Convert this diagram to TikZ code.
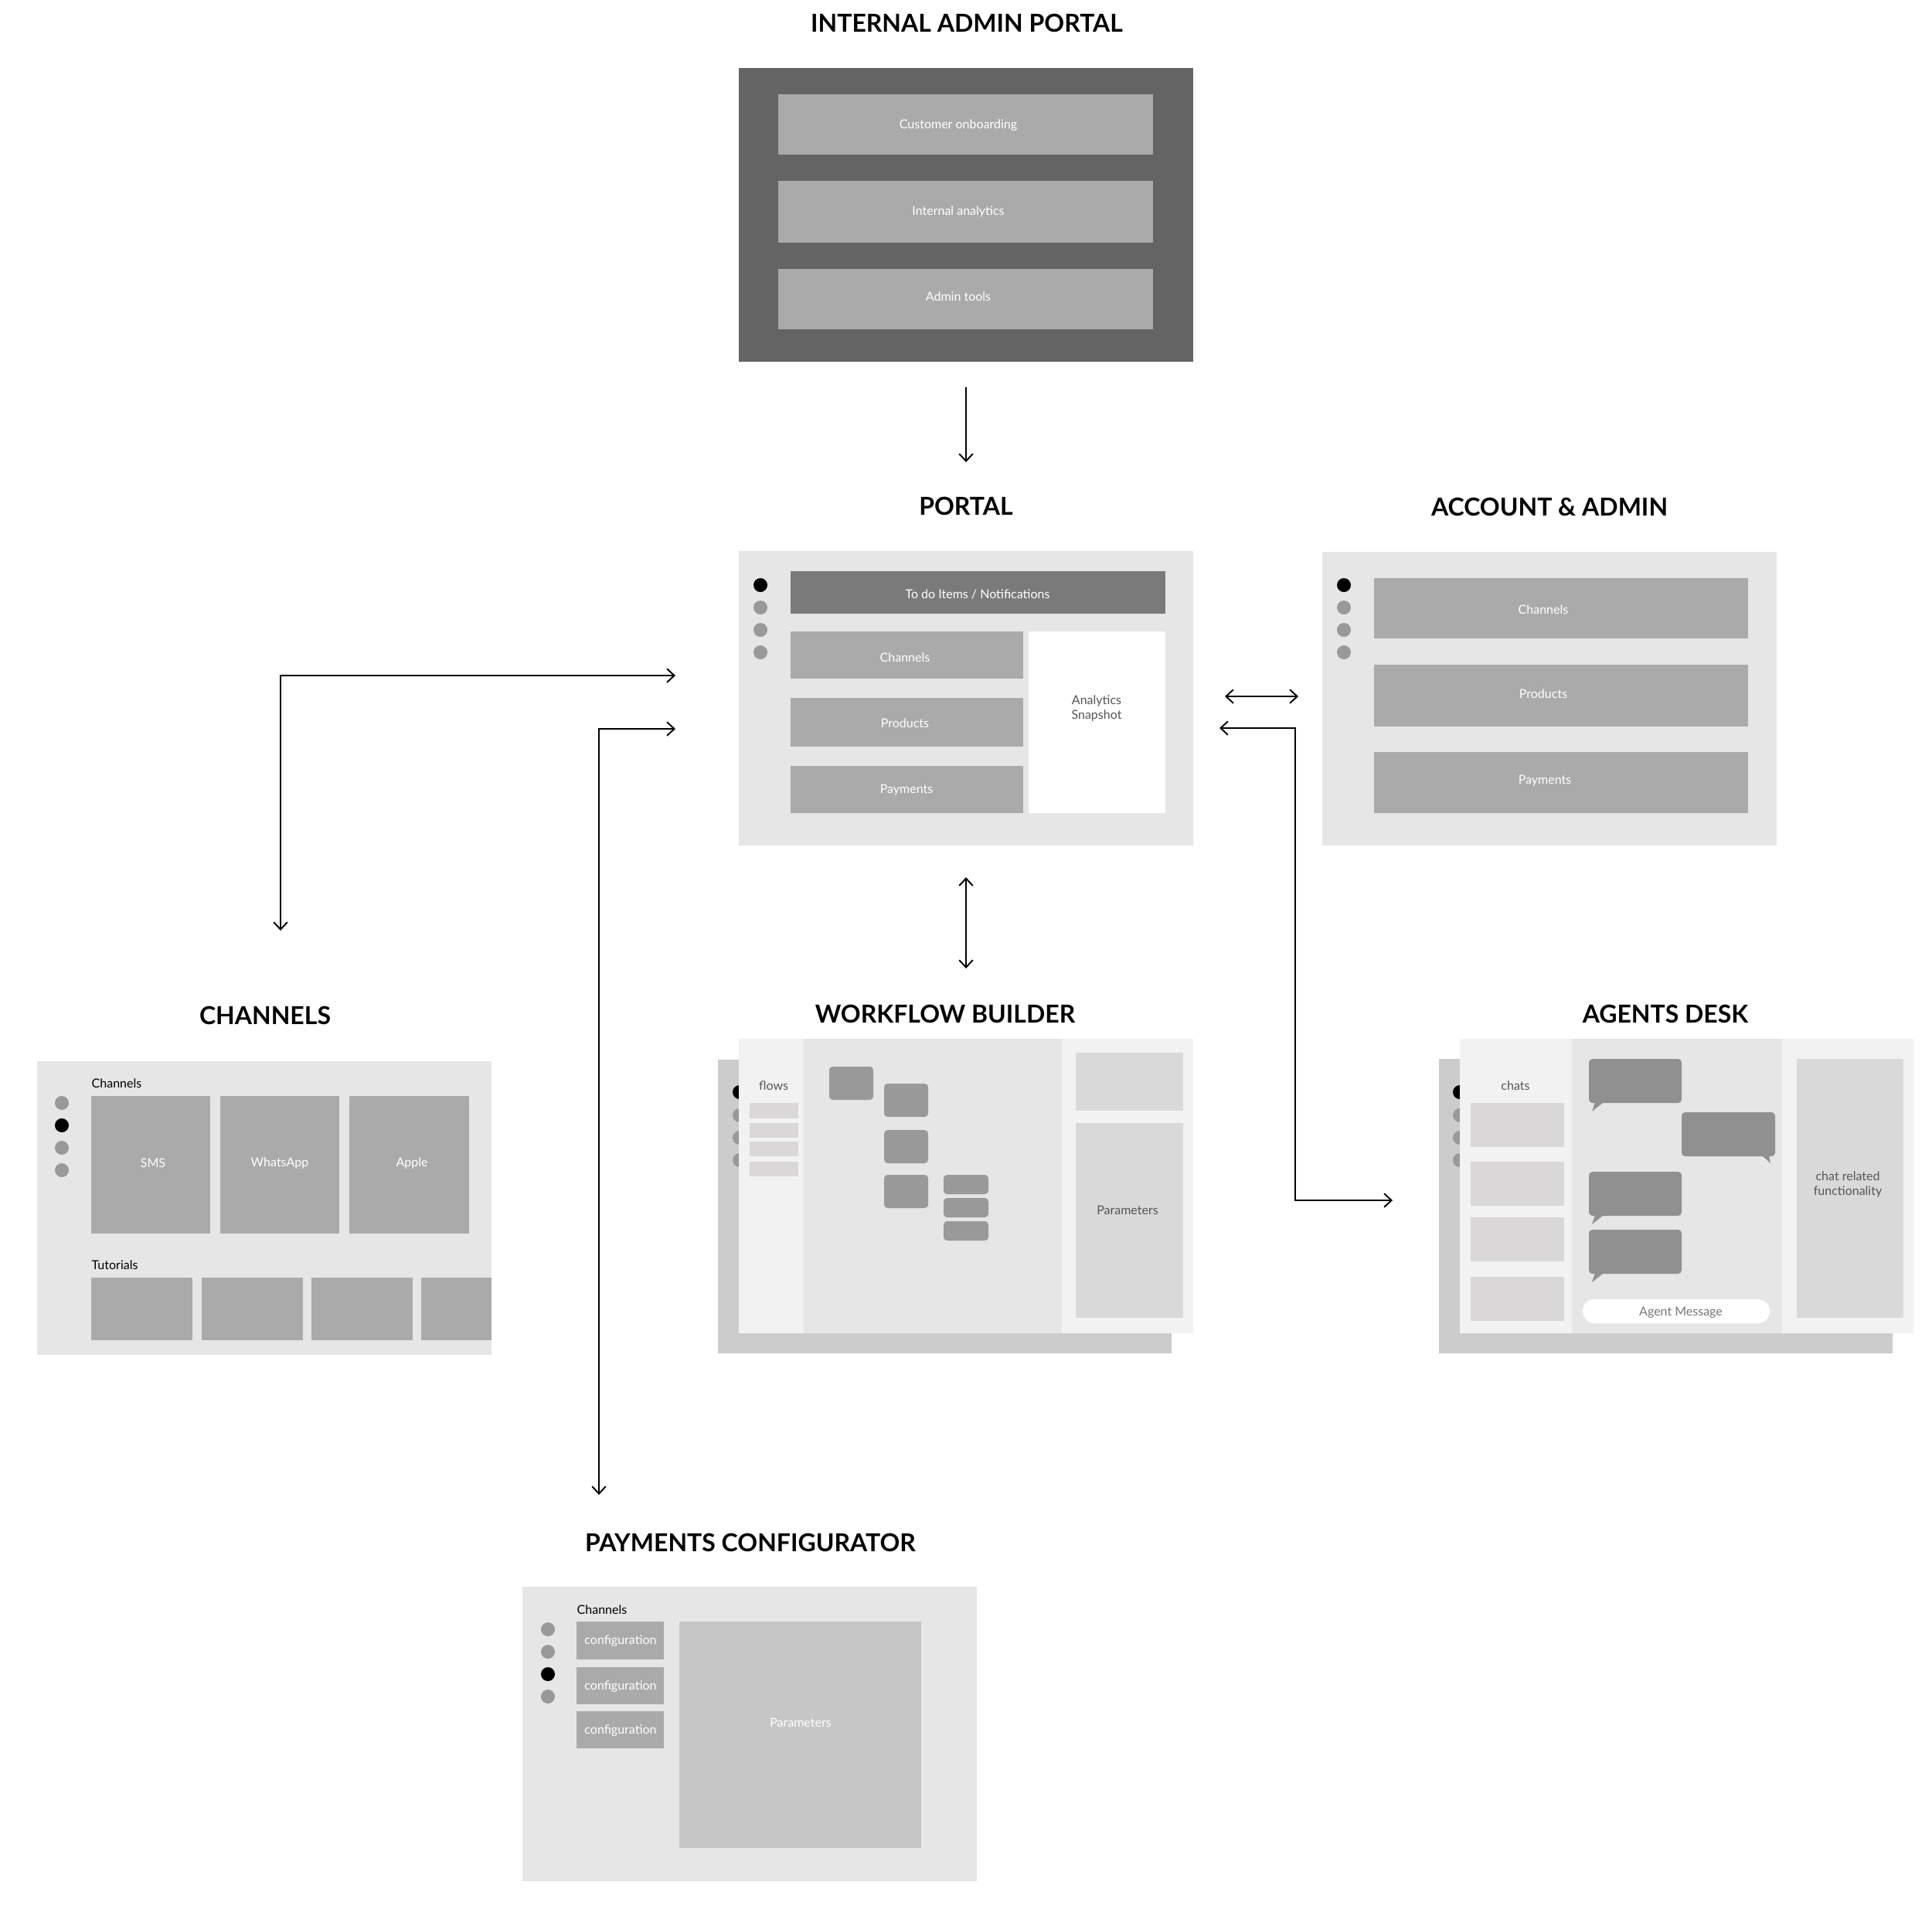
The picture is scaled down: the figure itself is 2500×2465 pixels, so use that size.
\documentclass[tikz,border=0pt]{standalone}
\usepackage{fontspec}
\setmainfont{Lato}
\usetikzlibrary{arrows.meta,fit}
\definecolor{admindark}{HTML}{646464}
\definecolor{boxgray}{HTML}{AAAAAA}
\definecolor{panelbg}{HTML}{E6E6E6}
\definecolor{todogray}{HTML}{7A7A7A}
\definecolor{dotgray}{HTML}{999999}
\definecolor{shadowgray}{HTML}{CCCCCC}
\definecolor{panelight}{HTML}{F2F2F2}
\definecolor{itemgray}{HTML}{D9D7D7}
\definecolor{rightgray}{HTML}{D9D9D9}
\definecolor{nodegray}{HTML}{999999}
\definecolor{bubblegray}{HTML}{909090}
\definecolor{paramgray}{HTML}{C6C6C6}
\definecolor{textdark}{HTML}{555555}
\definecolor{textmid}{HTML}{777777}
\tikzset{
  area/.style={inner sep=0pt, outer sep=0pt, fill=#1},
  rarea/.style={inner sep=0pt, outer sep=0pt, fill=#1, rounded corners=1.3pt},
  title/.style={font=\fontsize{9.1}{11}\selectfont\bfseries, anchor=base, inner sep=0pt},
  lbl/.style={font=\fontsize{4.55}{5.6}\selectfont, text=white, inner sep=0pt, align=center, yshift=-0.015cm},
  dlbl/.style={lbl, text=textdark},
  blbl/.style={lbl, text=black, anchor=west},
  dotc/.style={circle, inner sep=0pt, minimum size=0.18cm, fill=#1},
  conn/.style={line width=0.55pt, draw=black, line join=miter, -{Straight Barb[length=2.7pt,width=5pt]}},
  dconn/.style={line width=0.55pt, draw=black, line join=miter, {Straight Barb[length=2.7pt,width=5pt]}-{Straight Barb[length=2.7pt,width=5pt]}},
}
\begin{document}
\begin{tikzpicture}[x=0.01cm,y=-0.01cm]
\fill[white] (0,0) rectangle (2500,2465);
\useasboundingbox (0,0) rectangle (2500,2465);

% ---------- titles
\node[title] (tAdmin) at (1251,41) {INTERNAL ADMIN PORTAL};
\node[title] (tPortal) at (1250,666) {PORTAL};
\node[title] (tAccount) at (2005,667) {ACCOUNT \& ADMIN};
\node[title] (tWork) at (1223,1323) {WORKFLOW BUILDER};
\node[title] (tAgents) at (2155,1323) {AGENTS DESK};
\node[title] (tChan) at (343,1325) {CHANNELS};
\node[title] (tPay) at (971,2007) {PAYMENTS CONFIGURATOR};

% ---------- internal admin portal
\node[area=admindark, fit={(956,88)(1544,468)}] (admin) {};
\node[area=boxgray, fit={(1007,122)(1492,200)}] (aOnb) {};
\node[area=boxgray, fit={(1007,234)(1492,314)}] (aAna) {};
\node[area=boxgray, fit={(1007,348)(1492,426)}] (aTools) {};
\node[lbl] (aOnbT) at (1240,161) {Customer onboarding};
\node[lbl] (aAnaT) at (1240,272) {Internal analytics};
\node[lbl] (aToolsT) at (1240,382) {Admin tools};

% ---------- portal
\node[area=panelbg, fit={(956,713)(1544,1094)}] (portal) {};
\node[dotc=black] (pd1) at (984,757) {};
\node[dotc=dotgray] (pd2) at (984,786) {};
\node[dotc=dotgray] (pd3) at (984,815) {};
\node[dotc=dotgray] (pd4) at (984,844) {};
\node[area=todogray, fit={(1023,739)(1508,794)}] (pTodo) {};
\node[lbl] (pTodoT) at (1265,767) {To do Items / Notifications};
\node[area=boxgray, fit={(1023,817)(1324,878)}] (pChan) {};
\node[lbl] (pChanT) at (1171,849) {Channels};
\node[area=boxgray, fit={(1023,903)(1324,966)}] (pProd) {};
\node[lbl] (pProdT) at (1171,934) {Products};
\node[area=boxgray, fit={(1023,991)(1324,1052)}] (pPay) {};
\node[lbl] (pPayT) at (1173,1021) {Payments};
\node[area=white, fit={(1331,817)(1508,1052)}] (pAna) {};
\node[dlbl] (pAnaT) at (1419,915) {Analytics\\Snapshot};

% ---------- account & admin
\node[area=panelbg, fit={(1711,714)(2299,1094)}] (account) {};
\node[dotc=black] (ad1) at (1739,757) {};
\node[dotc=dotgray] (ad2) at (1739,786) {};
\node[dotc=dotgray] (ad3) at (1739,815) {};
\node[dotc=dotgray] (ad4) at (1739,844) {};
\node[area=boxgray, fit={(1778,748)(2262,826)}] (acChan) {};
\node[lbl] (acChanT) at (1997,787) {Channels};
\node[area=boxgray, fit={(1778,860)(2262,940)}] (acProd) {};
\node[lbl] (acProdT) at (1997,896) {Products};
\node[area=boxgray, fit={(1778,973)(2262,1052)}] (acPay) {};
\node[lbl] (acPayT) at (1999,1009) {Payments};

% ---------- workflow builder
\node[area=shadowgray, fit={(929,1371)(1516,1751)}] (wBack) {};
\node[dotc=black] (wd1) at (957,1413) {};
\node[dotc=dotgray] (wd2) at (957,1443) {};
\node[dotc=dotgray] (wd3) at (957,1472) {};
\node[dotc=dotgray] (wd4) at (957,1501) {};
\node[area=panelight, fit={(956,1344)(1040,1725)}] (wLeft) {};
\node[area=panelbg, fit={(1040,1344)(1374,1725)}] (wMid) {};
\node[area=panelight, fit={(1374,1344)(1544,1725)}] (wRight) {};
\node[dlbl] (wFlowsT) at (1001,1403) {flows};
\node[area=itemgray, fit={(970,1427)(1033,1447)}] (wi1) {};
\node[area=itemgray, fit={(970,1453)(1033,1472)}] (wi2) {};
\node[area=itemgray, fit={(970,1477)(1033,1496)}] (wi3) {};
\node[area=itemgray, fit={(970,1503)(1033,1522)}] (wi4) {};
\node[rarea=nodegray, fit={(1073,1380)(1130,1423)}] (wn1) {};
\node[rarea=nodegray, fit={(1144,1402)(1201,1445)}] (wn2) {};
\node[rarea=nodegray, fit={(1144,1462)(1201,1505)}] (wn3) {};
\node[rarea=nodegray, fit={(1144,1520)(1201,1563)}] (wn4) {};
\node[rarea=nodegray, fit={(1221,1520)(1279,1545)}] (ws1) {};
\node[rarea=nodegray, fit={(1221,1550)(1279,1575)}] (ws2) {};
\node[rarea=nodegray, fit={(1221,1580)(1279,1605)}] (ws3) {};
\node[area=rightgray, fit={(1392,1362)(1531,1437)}] (wTop) {};
\node[area=rightgray, fit={(1392,1453)(1531,1705)}] (wParam) {};
\node[dlbl] (wParamT) at (1459,1564) {Parameters};

% ---------- agents desk
\node[area=shadowgray, fit={(1862,1370)(2449,1751)}] (gBack) {};
\node[dotc=black] (gd1) at (1889,1413) {};
\node[dotc=dotgray] (gd2) at (1889,1443) {};
\node[dotc=dotgray] (gd3) at (1889,1472) {};
\node[dotc=dotgray] (gd4) at (1889,1501) {};
\node[area=panelight, fit={(1889,1344)(2034,1725)}] (gLeft) {};
\node[area=panelbg, fit={(2034,1344)(2306,1725)}] (gMid) {};
\node[area=panelight, fit={(2306,1344)(2476,1725)}] (gRight) {};
\node[dlbl] (gChatsT) at (1961,1403) {chats};
\node[area=itemgray, fit={(1903,1427)(2024,1484)}] (gi1) {};
\node[area=itemgray, fit={(1903,1503)(2024,1560)}] (gi2) {};
\node[area=itemgray, fit={(1903,1575)(2024,1632)}] (gi3) {};
\node[area=itemgray, fit={(1903,1652)(2024,1709)}] (gi4) {};
\fill[bubblegray] (2064,1426) -- (2075,1426) -- (2060,1438) -- cycle;
\fill[bubblegray] (2280,1495) -- (2289,1495) -- (2291,1505) -- cycle;
\fill[bubblegray] (2064,1572) -- (2075,1572) -- (2060,1584) -- cycle;
\fill[bubblegray] (2064,1647) -- (2075,1647) -- (2060,1659) -- cycle;
\node[rarea=bubblegray, fit={(2056,1370)(2176,1427)}] (gb1) {};
\node[rarea=bubblegray, fit={(2176,1439)(2297,1496)}] (gb2) {};
\node[rarea=bubblegray, fit={(2056,1516)(2176,1573)}] (gb3) {};
\node[rarea=bubblegray, fit={(2056,1591)(2176,1648)}] (gb4) {};
\node[area=white, rounded corners=4.3pt, fit={(2048,1681)(2290,1712)}] (gMsg) {};
\node[lbl, text=textmid] (gMsgT) at (2175,1697) {Agent Message};
\node[area=rightgray, fit={(2325,1370)(2463,1705)}] (gFunc) {};
\node[dlbl] (gFuncT) at (2391,1531) {chat related\\functionality};

% ---------- channels
\node[area=panelbg, fit={(48,1373)(636,1753)}] (channels) {};
\node[dotc=dotgray] (cd1) at (80,1427) {};
\node[dotc=black] (cd2) at (80,1456) {};
\node[dotc=dotgray] (cd3) at (80,1485) {};
\node[dotc=dotgray] (cd4) at (80,1514) {};
\node[blbl] (cChanT) at (118,1400) {Channels};
\node[area=boxgray, fit={(118,1418)(272,1596)}] (cSms) {};
\node[area=boxgray, fit={(285,1418)(439,1596)}] (cWa) {};
\node[area=boxgray, fit={(452,1418)(607,1596)}] (cApple) {};
\node[lbl] (cSmsT) at (198,1503) {SMS};
\node[lbl] (cWaT) at (362,1503) {WhatsApp};
\node[lbl] (cAppleT) at (533,1503) {Apple};
\node[blbl] (cTutT) at (118,1635) {Tutorials};
\node[area=boxgray, fit={(118,1653)(249,1734)}] (ct1) {};
\node[area=boxgray, fit={(261,1653)(392,1734)}] (ct2) {};
\node[area=boxgray, fit={(403,1653)(534,1734)}] (ct3) {};
\node[area=boxgray, fit={(545,1653)(636,1734)}] (ct4) {};

% ---------- payments configurator
\node[area=panelbg, fit={(676,2053)(1264,2434)}] (payments) {};
\node[dotc=dotgray] (yd1) at (709,2108) {};
\node[dotc=dotgray] (yd2) at (709,2137) {};
\node[dotc=black] (yd3) at (709,2166) {};
\node[dotc=dotgray] (yd4) at (709,2195) {};
\node[blbl] (yChanT) at (746,2081) {Channels};
\node[area=boxgray, fit={(746,2098)(859,2147)}] (yc1) {};
\node[area=boxgray, fit={(746,2157)(859,2205)}] (yc2) {};
\node[area=boxgray, fit={(746,2214)(859,2262)}] (yc3) {};
\node[lbl] (yc1T) at (803,2122) {configuration};
\node[lbl] (yc2T) at (803,2181) {configuration};
\node[lbl] (yc3T) at (803,2238) {configuration};
\node[area=paramgray, fit={(879,2098)(1192,2391)}] (yParam) {};
\node[lbl] (yParamT) at (1036,2227) {Parameters};

% ---------- connectors
\coordinate (k1a) at (1250,501);
\coordinate (k1b) at (1250,598);
\draw[conn] (k1a) -- (k1b);

\coordinate (k2a) at (1250,1135);
\coordinate (k2b) at (1250,1253);
\draw[dconn] (k2a) -- (k2b);

\coordinate (k3a) at (1585,901);
\coordinate (k3b) at (1680,901);
\draw[dconn] (k3a) -- (k3b);

\coordinate (k4a) at (1578,942);
\coordinate (k4m) at (1676,1553);
\coordinate (k4b) at (1802,1553);
\draw[dconn] (k4a) -| (k4m) -- (k4b);

\coordinate (k5a) at (874,874);
\coordinate (k5b) at (363,1204);
\draw[dconn] (k5a) -| (k5b);

\coordinate (k6a) at (874,943);
\coordinate (k6b) at (775,1934);
\draw[dconn] (k6a) -| (k6b);
\end{tikzpicture}
\end{document}
